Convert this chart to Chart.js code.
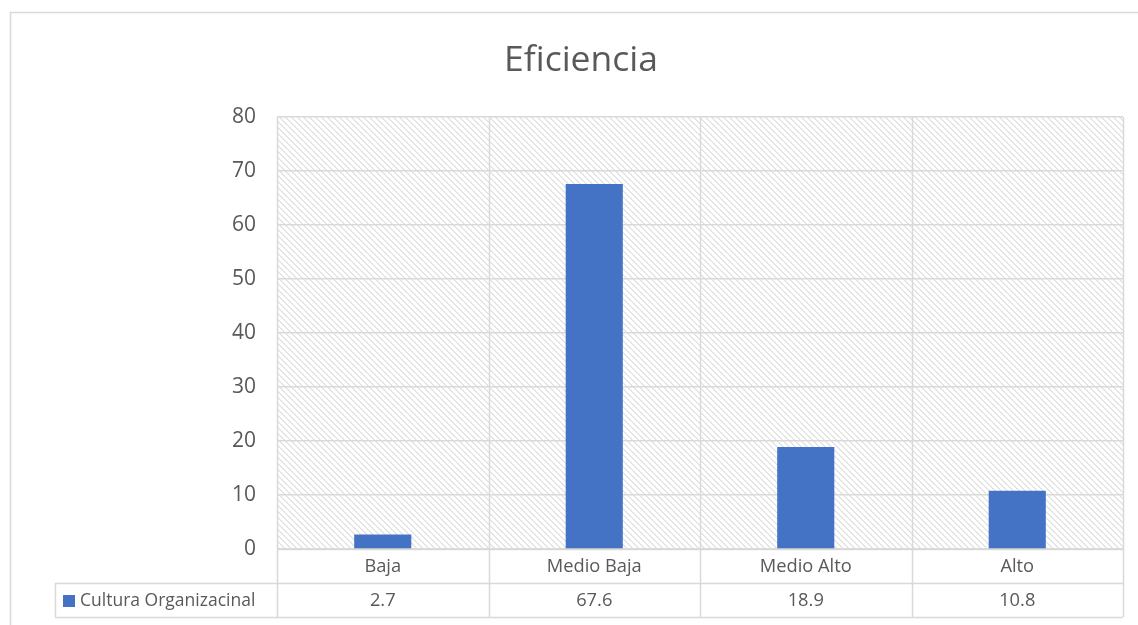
<!DOCTYPE html>
<html>
<head>
<meta charset="utf-8">
<script src="https://cdn.jsdelivr.net/npm/chart.js@4.4.1/dist/chart.umd.min.js"></script>
<style>
  html, body { margin: 0; padding: 0; background: #ffffff; }
  #wrap { width: 1138px; height: 625px; position: relative; }
</style>
</head>
<body>
<div id="wrap"><canvas id="chart" width="1138" height="625"></canvas></div>
<script>
// Chart content
const chartTitle = 'Eficiencia';
const categories = ['Baja', 'Medio Baja', 'Medio Alto', 'Alto'];
const seriesName = 'Cultura Organizacinal';
const seriesValues = [2.7, 67.6, 18.9, 10.8];
const yTicks = [0, 10, 20, 30, 40, 50, 60, 70, 80];

const TEXT = '#595959';
const LINE = '#d9d9d9';
const BAR = '#4472C4';
const FONT = "'Open Sans', 'Liberation Sans', sans-serif";

// Light diagonal hatch used as the plot-area fill
function makeHatch() {
  const c = document.createElement('canvas');
  c.width = 6; c.height = 6;
  const g = c.getContext('2d');
  g.fillStyle = '#ffffff';
  g.fillRect(0, 0, 6, 6);
  for (let i = 0; i < 6; i++) {
    g.fillStyle = '#dedede';
    g.fillRect(i, i, 1, 1);
    g.fillStyle = '#ececec';
    g.fillRect((i + 1) % 6, i, 1, 1);
  }
  return g.createPattern(c, 'repeat');
}

const ROW1 = 34, ROW2 = 34;   // data table row heights
const KEY_LEFT = 55;          // left edge of the series name cell

const framePlugin = {
  id: 'frame',
  beforeDraw(chart) {
    const ctx = chart.ctx, a = chart.chartArea;
    ctx.save();
    // outer chart frame
    ctx.strokeStyle = LINE;
    ctx.lineWidth = 1.5;
    ctx.beginPath();
    ctx.moveTo(10.5, chart.height);
    ctx.lineTo(10.5, 12.5);
    ctx.lineTo(chart.width, 12.5);
    ctx.stroke();
    // hatched plot background
    ctx.fillStyle = makeHatch();
    ctx.fillRect(a.left, a.top, a.right - a.left, a.bottom - a.top);
    // title
    ctx.fillStyle = TEXT;
    ctx.font = '35.5px ' + FONT;
    ctx.textAlign = 'center';
    ctx.textBaseline = 'middle';
    ctx.fillText(chartTitle, 581, 61);
    ctx.restore();
  },
  beforeDatasetsDraw(chart) {
    const ctx = chart.ctx, a = chart.chartArea, x = chart.scales.x;
    const n = categories.length;
    const step = (a.right - a.left) / n;
    const y1 = a.bottom + ROW1, y2 = y1 + ROW2;
    ctx.save();
    ctx.strokeStyle = LINE;
    ctx.lineWidth = 1.5;
    ctx.beginPath();
    // category boundaries through the plot and the table
    for (let i = 0; i <= n; i++) {
      const px = Math.round(x.getPixelForValue(i) - step / 2) + 0.5;
      ctx.moveTo(px, a.top);
      ctx.lineTo(px, y2);
    }
    // table rows
    ctx.moveTo(a.left, a.bottom + 0.5); ctx.lineTo(a.right, a.bottom + 0.5);
    ctx.moveTo(KEY_LEFT, y1 + 0.5); ctx.lineTo(a.right, y1 + 0.5);
    ctx.moveTo(KEY_LEFT, y2 + 0.5); ctx.lineTo(a.right, y2 + 0.5);
    ctx.moveTo(KEY_LEFT + 0.5, y1); ctx.lineTo(KEY_LEFT + 0.5, y2);
    ctx.stroke();

    // table text
    ctx.fillStyle = TEXT;
    ctx.font = '18.3px ' + FONT;
    ctx.textBaseline = 'middle';
    ctx.textAlign = 'center';
    categories.forEach((c, i) => {
      const px = x.getPixelForValue(i);
      ctx.fillText(c, px, a.bottom + ROW1 / 2 + 1);
      ctx.fillText(String(seriesValues[i]), px, y1 + ROW2 / 2 + 1);
    });
    // series key
    ctx.fillStyle = BAR;
    ctx.fillRect(KEY_LEFT + 8, y1 + 12, 12, 12);
    ctx.fillStyle = TEXT;
    ctx.textAlign = 'left';
    ctx.font = '17.5px ' + FONT;
    ctx.fillText(seriesName, KEY_LEFT + 25, y1 + ROW2 / 2 + 1);
    ctx.restore();
  }
};

new Chart(document.getElementById('chart'), {
  type: 'bar',
  data: {
    labels: categories,
    datasets: [{
      label: seriesName,
      data: seriesValues,
      backgroundColor: BAR,
      borderWidth: 0,
      categoryPercentage: 1,
      barPercentage: 0.27
    }]
  },
  options: {
    responsive: false,
    animation: false,
    devicePixelRatio: 1,
    layout: { padding: { top: 117, left: 0, right: 15, bottom: 76 } },
    plugins: {
      legend: { display: false },
      title: { display: false },
      tooltip: { enabled: false }
    },
    scales: {
      x: {
        ticks: { display: false },
        grid: { display: false },
        border: { display: false },
        afterFit(s) { s.height = 0; }
      },
      y: {
        min: 0,
        max: 80,
        afterBuildTicks(s) { s.ticks = yTicks.map(v => ({ value: v })); },
        ticks: {
          color: TEXT,
          font: { family: FONT, size: 21 },
          padding: 21
        },
        grid: { color: LINE, lineWidth: 1.5, drawTicks: false },
        border: { display: false },
        afterFit(s) { s.width = 277; }
      }
    }
  },
  plugins: [framePlugin]
});
</script>
</body>
</html>
